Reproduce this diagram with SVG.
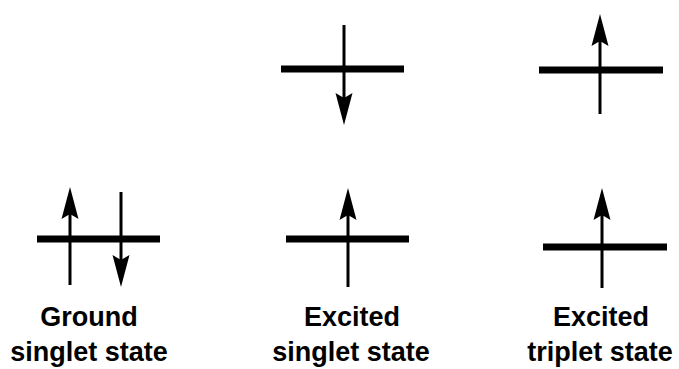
<svg xmlns="http://www.w3.org/2000/svg" width="679" height="369" viewBox="0 0 679 369">
  <style>
    .level { stroke: #000; stroke-width: 7; fill: none; }
    .spin { stroke: #000; stroke-width: 3; fill: none; marker-end: url(#head); }
    .label { font-family: "Liberation Sans", Arial, sans-serif; font-weight: bold; font-size: 27px; fill: #000; text-anchor: middle; }
  </style>
  <defs>
    <marker id="head" markerUnits="userSpaceOnUse" markerWidth="32" markerHeight="18" viewBox="0 0 32 18" refX="12" refY="9" orient="auto">
      <path d="M32,9 L0,0.5 L5,9 L0,17.5 z" fill="#000"/>
    </marker>
  </defs>
  <rect width="679" height="369" fill="#fff"/>

  <g id="ground-singlet">
    <line class="level" x1="37" y1="239" x2="160" y2="239"/>
    <line class="spin" x1="70" y1="285" x2="70" y2="207"/>
    <line class="spin" x1="121" y1="192" x2="121" y2="267"/>
    <text class="label" x="89" y="326">Ground</text>
    <text class="label" x="89" y="361">singlet state</text>
  </g>

  <g id="excited-singlet">
    <line class="level" x1="281" y1="69" x2="404" y2="69"/>
    <line class="spin" x1="344" y1="25" x2="344" y2="105"/>
    <line class="level" x1="286" y1="239" x2="409" y2="239"/>
    <line class="spin" x1="348" y1="287" x2="348" y2="208"/>
    <text class="label" x="352" y="326">Excited</text>
    <text class="label" x="351" y="361">singlet state</text>
  </g>

  <g id="excited-triplet">
    <line class="level" x1="539" y1="70" x2="663" y2="70"/>
    <line class="spin" x1="600" y1="114" x2="600" y2="34"/>
    <line class="level" x1="543" y1="247" x2="667" y2="247"/>
    <line class="spin" x1="602" y1="288" x2="602" y2="208"/>
    <text class="label" x="601" y="326">Excited</text>
    <text class="label" x="600" y="361">triplet state</text>
  </g>
</svg>
